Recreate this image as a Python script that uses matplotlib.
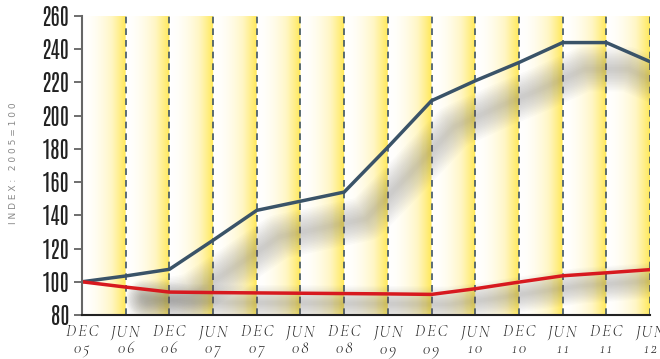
import numpy as np
import matplotlib
matplotlib.use('Agg')
import matplotlib.pyplot as plt
from matplotlib.colors import LinearSegmentedColormap

# 數據 (index, 2005 = 100)
months = ['DEC', 'JUN', 'DEC', 'JUN', 'DEC', 'JUN', 'DEC', 'JUN', 'DEC', 'JUN', 'DEC', 'JUN', 'DEC', 'JUN']
years = ['05', '06', '06', '07', '07', '08', '08', '09', '09', '10', '10', '11', '11', '12']
blue_vals = [100, 103.5, 107.5, 125, 143, 148.5, 154, 181, 209, 221, 232, 244, 244, 232.5]
red_vals = [100, 96.8, 93.8, 93.5, 93.3, 93.1, 92.9, 92.7, 92.4, 95.8, 99.8, 103.6, 105.4, 107.3]

x = np.arange(len(blue_vals))

fig = plt.figure(figsize=(6.6, 3.59), dpi=100)
ax = fig.add_axes([82 / 660, 1 - 315 / 359, (650 - 82) / 660, (315 - 16) / 359])

# 黃色漸層背景
n = len(x) - 1
t = np.linspace(0, 1, 60) ** 1.8
grad = np.tile(t, n)[np.newaxis, :]
cmap = LinearSegmentedColormap.from_list('yel', ['#ffffff', '#fff6c4', '#ffe95c'])
ax.imshow(grad, extent=[0, n, 80, 260], aspect='auto', cmap=cmap, zorder=0,
          interpolation='bilinear')

# 虛線
for xi in x[1:]:
    ax.axvline(xi, color='#3e5566', lw=1.2, dashes=(4, 3), zorder=1)

# 陰影 (模糊)
for w in np.linspace(32, 3, 14):
    ax.plot(x[1:] + 0.5, np.array(blue_vals[1:]) - 16, color='#606060', lw=w, alpha=0.022,
            solid_capstyle='round', solid_joinstyle='round', zorder=2)
    ax.plot(x[1:] + 0.4, np.array(red_vals[1:]) - 6, color='#606060', lw=w * 0.8, alpha=0.024,
            solid_capstyle='round', solid_joinstyle='round', zorder=2)

ax.plot(x, blue_vals, color='#3a5368', lw=2.5, zorder=4, solid_joinstyle='miter')
ax.plot(x, red_vals, color='#d7191f', lw=2.5, zorder=5, solid_joinstyle='miter')

ax.set_xlim(0, n)
ax.set_ylim(80, 260)
ax.set_yticks(range(80, 261, 20))
ax.set_xticks(x)
hs = '\u200a'
ax.set_xticklabels([f'{hs.join(m)}\n{hs.join(y)}' for m, y in zip(months, years)],
                   family=['Cormorant', 'Cormorant Garamond', 'DejaVu Serif'], style='italic',
                   fontweight='semibold', fontsize=12, color='#222222', linespacing=0.95)
for lab in ax.get_yticklabels():
    lab.set_family(['Antonio', 'DejaVu Sans'])
    lab.set_fontweight('bold')
    lab.set_fontsize(16)
    lab.set_color('#222222')

ax.tick_params(axis='y', length=6, width=1.2, color='#555555', pad=3)
ax.tick_params(axis='x', length=0, pad=6)
for s in ['top', 'right']:
    ax.spines[s].set_visible(False)
ax.spines['left'].set_color('#666666')
ax.spines['left'].set_linewidth(1.5)
ax.spines['bottom'].set_color('#222222')
ax.spines['bottom'].set_linewidth(1.5)
ax.spines['left'].set_zorder(6)
ax.spines['bottom'].set_zorder(6)

fig.text(14 / 660, 1 - 163 / 359, 'I N D E X :   2 0 0 5 = 1 0 0', rotation=90,
         ha='center', va='center', fontsize=6.5, color='#888888')

fig.savefig('out.png', dpi=100)
